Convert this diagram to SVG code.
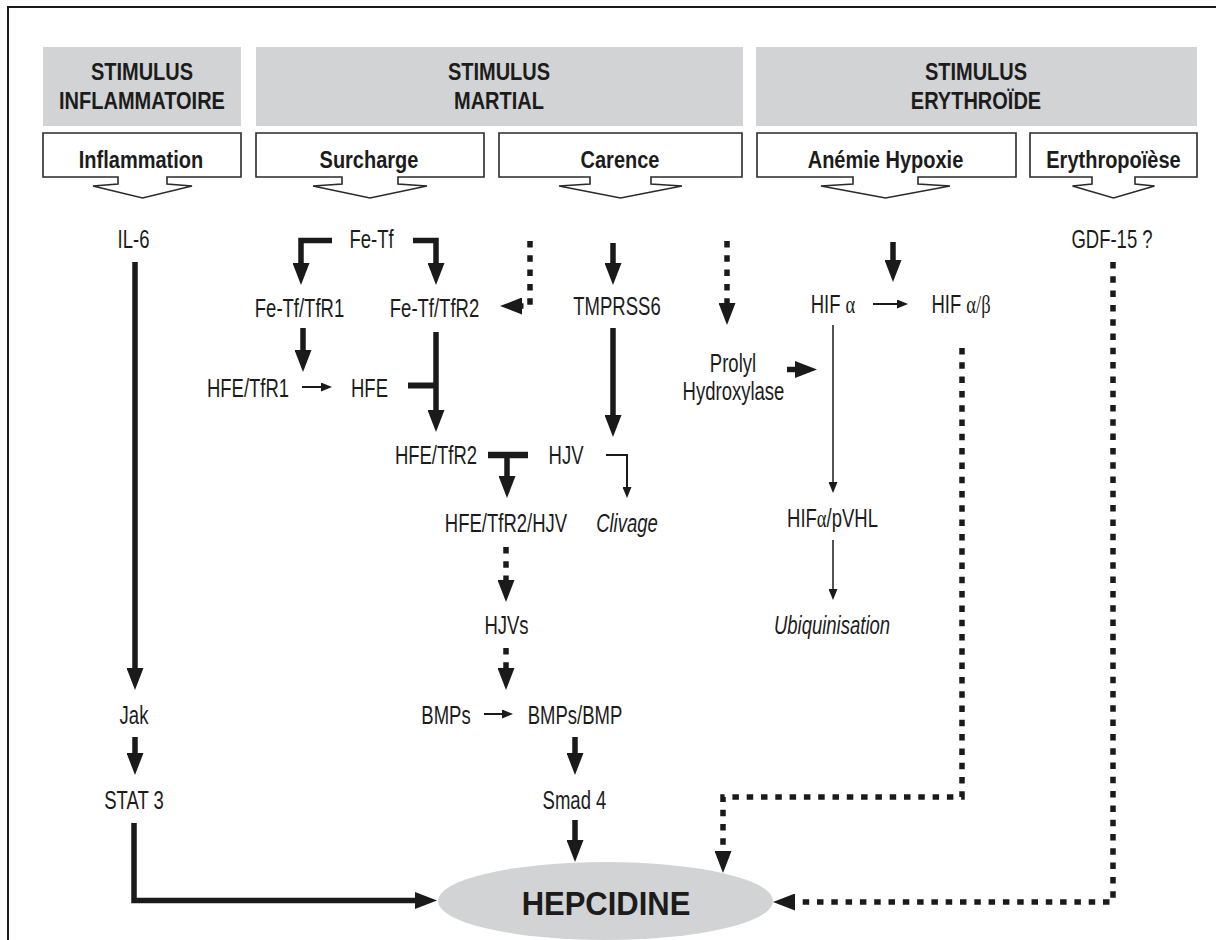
<svg xmlns="http://www.w3.org/2000/svg" width="1216" height="940" viewBox="0 0 1216 940">
<style>
.frame{fill:none;stroke:#1a1a1a;stroke-width:2}
.hdr{fill:#d1d3d4}
.box{fill:#fff;stroke:#2a2a2a;stroke-width:1.6;stroke-linejoin:miter}
.b{font-family:"Liberation Sans",Arial,sans-serif;font-weight:bold;font-size:20px;fill:#1c1c1c;text-anchor:middle;transform-box:fill-box;transform-origin:center;transform:scaleY(1.15)}
.t{font-family:"Liberation Sans",Arial,sans-serif;font-size:18.5px;fill:#1c1c1c;text-anchor:middle;transform-box:fill-box;transform-origin:center;transform:scaleY(1.35)}
.i{font-style:italic}
.g{font-family:"Liberation Serif","Times New Roman",serif}
.big{font-family:"Liberation Sans",Arial,sans-serif;font-weight:bold;font-size:31px;fill:#1c1c1c;text-anchor:middle;transform-box:fill-box;transform-origin:center;transform:scaleY(1.05)}
.thick{fill:none;stroke:#1a1a1a;stroke-width:5.5;stroke-linejoin:miter}
.dot{fill:none;stroke:#1a1a1a;stroke-width:5.5;stroke-dasharray:6.5 7.8}
.thin{fill:none;stroke:#1a1a1a;stroke-width:2}
.hair{fill:none;stroke:#1a1a1a;stroke-width:1.5}
.ell{fill:#d1d3d4}
</style>
<defs>
<marker id="ah" markerUnits="userSpaceOnUse" markerWidth="22" markerHeight="17" refX="10" refY="8.5" orient="auto"><path d="M0,0 L22,8.5 L0,17 Z" fill="#1a1a1a"/></marker>
<marker id="as" markerUnits="userSpaceOnUse" markerWidth="11" markerHeight="9" refX="6" refY="4.5" orient="auto"><path d="M0,0 L11,4.5 L0,9 Z" fill="#1a1a1a"/></marker>
</defs>
<rect class="frame" x="8" y="7" width="1230" height="960"/>

<g id="hdr-inflammatoire"><rect class="hdr" x="43" y="47" width="198" height="79"/><text class="b" x="142" y="78.5">STIMULUS</text><text class="b" x="142" y="108">INFLAMMATOIRE</text></g>
<g id="hdr-martial"><rect class="hdr" x="256" y="47" width="487" height="79"/><text class="b" x="499" y="78.5">STIMULUS</text><text class="b" x="499" y="108">MARTIAL</text></g>
<g id="hdr-erythroide"><rect class="hdr" x="756" y="47" width="441" height="79"/><text class="b" x="976" y="78.5">STIMULUS</text><text class="b" x="976" y="108">ERYTHROÏDE</text></g>

<g id="box-inflammation"><path class="box" d="M43,133 H241 V177 H167 V184 L192,186 L142.5,198 L93,186 L118,184 V177 H43 Z"/><text class="b" x="141" y="167">Inflammation</text></g>
<g id="box-surcharge"><path class="box" d="M256,133 H484 V177 H398 V184 L427,186 L370,198 L313,186 L342,184 V177 H256 Z"/><text class="b" x="369" y="167">Surcharge</text></g>
<g id="box-carence"><path class="box" d="M499,133 H742 V177 H651 V184 L682,186 L620.5,198 L559,186 L590,184 V177 H499 Z"/><text class="b" x="620" y="167">Carence</text></g>
<g id="box-anemie"><path class="box" d="M757,133 H1016 V177 H918 V184 L950,186 L885.5,198 L821,186 L853,184 V177 H757 Z"/><text class="b" x="885.5" y="167">Anémie Hypoxie</text></g>
<g id="box-erythropoiese"><path class="box" d="M1030,133 H1197 V177 H1135 V184 L1154.5,186 L1113.5,198 L1072.5,186 L1092,184 V177 H1030 Z"/><text class="b" x="1113.5" y="167">Erythropoïèse</text></g>

<g id="connectors">
<path class="thick" d="M135,262 V678" marker-end="url(#ah)"/>
<path class="thick" d="M135,737 V763" marker-end="url(#ah)"/>
<path class="thick" d="M134,823 V900.5 H425" marker-end="url(#ah)"/>
<path class="thick" d="M332,240.5 H301 V273" marker-end="url(#ah)"/>
<path class="thick" d="M413,240.5 H436 V273" marker-end="url(#ah)"/>
<path class="dot" d="M530,241 V306 H512" marker-end="url(#ah)"/>
<path class="thick" d="M613,243 V273" marker-end="url(#ah)"/>
<path class="dot" d="M727,241 V313" marker-end="url(#ah)"/>
<path class="thick" d="M893,242 V270" marker-end="url(#ah)"/>
<path class="thick" d="M303,328 V360" marker-end="url(#ah)"/>
<path class="thin" d="M302,387 H327" marker-end="url(#as)"/>
<path class="thick" d="M436,332 V420" marker-end="url(#ah)"/>
<path class="thick" d="M408,385.5 H436" style="stroke-width:6"/>
<path class="thick" d="M613,328 V425" marker-end="url(#ah)"/>
<path class="thick" d="M787,369.5 H805" marker-end="url(#ah)"/>
<path class="thin" d="M873,304 H903" marker-end="url(#as)"/>
<path class="hair" d="M833,325 V488" marker-end="url(#as)"/>
<path class="thick" d="M488,455 H528" style="stroke-width:6.5"/>
<path class="thick" d="M507,458 V486" marker-end="url(#ah)"/>
<path class="thin" d="M606,455 H627 V493" marker-end="url(#as)"/>
<path class="dot" d="M506,547 V590" marker-end="url(#ah)"/>
<path class="dot" d="M506,648 V678" marker-end="url(#ah)"/>
<path class="thin" d="M484,714 H508" marker-end="url(#as)"/>
<path class="thick" d="M575,737 V763" marker-end="url(#ah)"/>
<path class="thick" d="M575,820 V850" marker-end="url(#ah)"/>
<path class="hair" d="M833,540 V595" marker-end="url(#as)"/>
<path class="dot" d="M962,348 V797 H723 V861" marker-end="url(#ah)"/>
<path class="dot" d="M1113,262 V902 H785" marker-end="url(#ah)"/>
</g>

<g id="n-il6"><text class="t" x="133.5" y="246">IL-6</text></g>
<g id="n-fetf"><text class="t" x="371.5" y="246">Fe-Tf</text></g>
<g id="n-gdf15"><text class="t" x="1112" y="246">GDF-15 ?</text></g>
<g id="n-fetf-tfr1"><text class="t" x="299.5" y="315">Fe-Tf/TfR1</text></g>
<g id="n-fetf-tfr2"><text class="t" x="434.5" y="315">Fe-Tf/TfR2</text></g>
<g id="n-tmprss6"><text class="t" x="617" y="313">TMPRSS6</text></g>
<g id="n-hifa"><text class="t" x="833" y="311">HIF <tspan class="g">α</tspan></text></g>
<g id="n-hifab"><text class="t" x="961" y="311">HIF <tspan class="g">α/β</tspan></text></g>
<g id="n-hfe-tfr1"><text class="t" x="248" y="394.5">HFE/TfR1</text></g>
<g id="n-hfe"><text class="t" x="369.5" y="394.5">HFE</text></g>
<g id="n-prolyl"><text class="t" x="733" y="370">Prolyl</text><text class="t" x="733.5" y="398">Hydroxylase</text></g>
<g id="n-hfe-tfr2"><text class="t" x="436" y="462">HFE/TfR2</text></g>
<g id="n-hjv"><text class="t" x="566" y="462">HJV</text></g>
<g id="n-hfe-tfr2-hjv"><text class="t" x="506" y="530">HFE/TfR2/HJV</text></g>
<g id="n-clivage"><text class="t i" x="627" y="530">Clivage</text></g>
<g id="n-hifa-pvhl"><text class="t" x="832.5" y="525">HIF<tspan class="g">α</tspan>/pVHL</text></g>
<g id="n-hjvs"><text class="t" x="506.5" y="632">HJVs</text></g>
<g id="n-ubiquinisation"><text class="t i" x="832" y="631.5">Ubiquinisation</text></g>
<g id="n-jak"><text class="t" x="134" y="722">Jak</text></g>
<g id="n-bmps"><text class="t" x="446" y="721.5">BMPs</text></g>
<g id="n-bmps-bmp"><text class="t" x="575" y="721.5">BMPs/BMP</text></g>
<g id="n-stat3"><text class="t" x="134" y="807">STAT 3</text></g>
<g id="n-smad4"><text class="t" x="574.5" y="807">Smad 4</text></g>
<g id="n-hepcidine"><ellipse class="ell" cx="605.5" cy="901" rx="167.5" ry="39"/><text class="big" x="606" y="914.5">HEPCIDINE</text></g>
</svg>
